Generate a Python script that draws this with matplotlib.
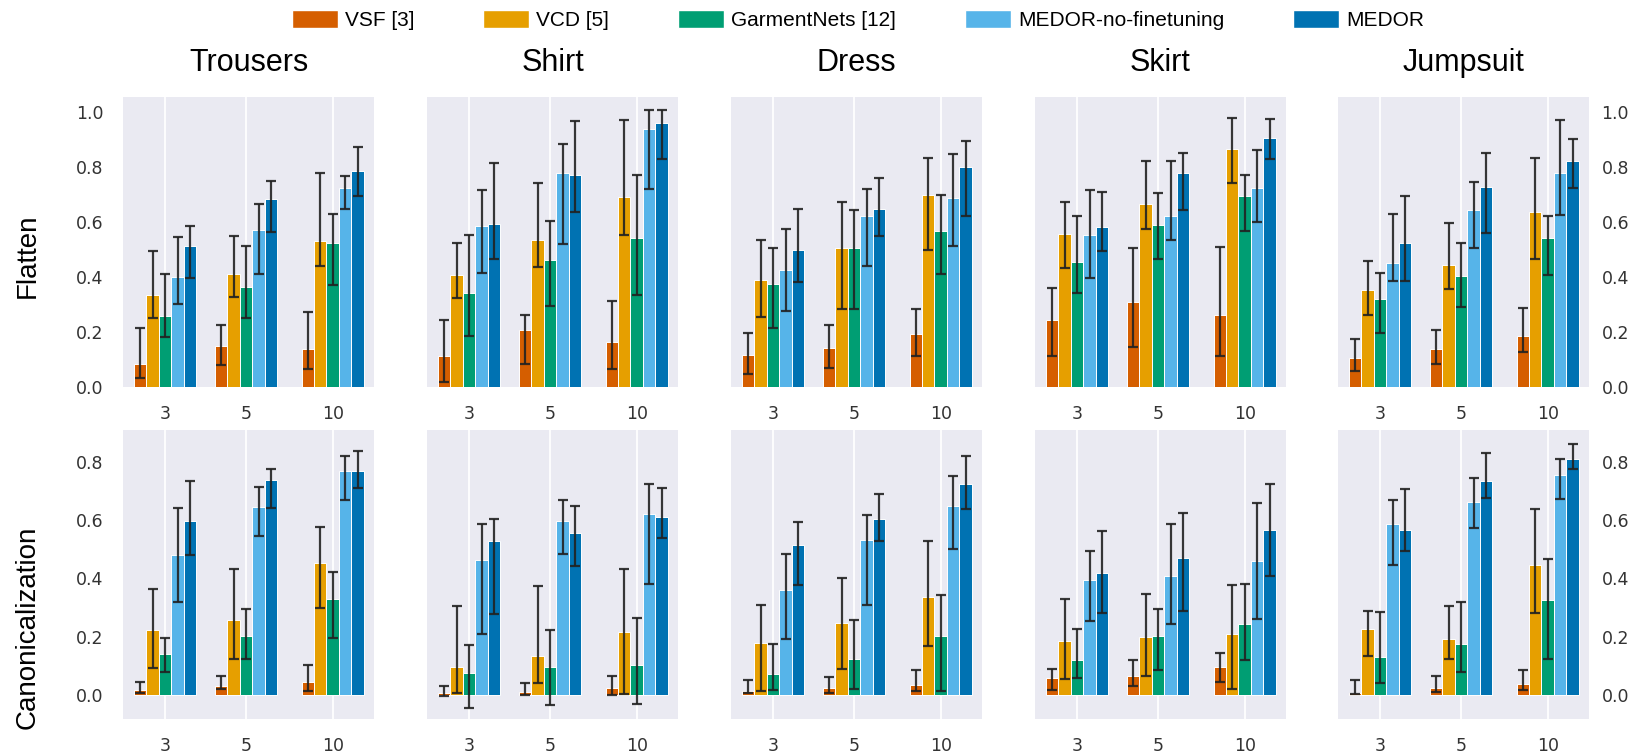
import numpy as np
import matplotlib
matplotlib.use("Agg")
from matplotlib import pyplot as plt
from matplotlib.patches import Patch

# data ------------------------------------------------------------------
garments = ["Trousers", "Shirt", "Dress", "Skirt", "Jumpsuit"]
methods = ["VSF [3]", "VCD [5]", "GarmentNets [12]", "MEDOR-no-finetuning", "MEDOR"]
groups = ["3", "5", "10"]
rows = ["Flatten", "Canonicalization"]

# [garment][method][group]
flatten_mean = [
    [[0.082, 0.148, 0.137], [0.335, 0.409, 0.530], [0.258, 0.364, 0.524], [0.400, 0.570, 0.722], [0.513, 0.685, 0.786]],
    [[0.113, 0.206, 0.162], [0.407, 0.533, 0.690], [0.340, 0.461, 0.540], [0.585, 0.779, 0.938], [0.592, 0.769, 0.960]],
    [[0.117, 0.141, 0.194], [0.390, 0.506, 0.699], [0.375, 0.504, 0.567], [0.427, 0.623, 0.688], [0.497, 0.648, 0.800]],
    [[0.245, 0.309, 0.263], [0.557, 0.665, 0.864], [0.455, 0.587, 0.693], [0.554, 0.623, 0.725], [0.581, 0.778, 0.905]],
    [[0.107, 0.138, 0.185], [0.352, 0.442, 0.637], [0.321, 0.402, 0.542], [0.449, 0.643, 0.778], [0.525, 0.728, 0.822]],
]
flatten_low = [
    [[0.033, 0.081, 0.065], [0.250, 0.327, 0.440], [0.180, 0.250, 0.370], [0.300, 0.410, 0.647], [0.395, 0.564, 0.693]],
    [[0.018, 0.082, 0.065], [0.325, 0.435, 0.552], [0.184, 0.295, 0.334], [0.414, 0.518, 0.721], [0.464, 0.635, 0.829]],
    [[0.047, 0.068, 0.114], [0.255, 0.282, 0.497], [0.214, 0.282, 0.411], [0.277, 0.438, 0.513], [0.383, 0.549, 0.623]],
    [[0.114, 0.145, 0.114], [0.432, 0.575, 0.740], [0.343, 0.464, 0.567], [0.396, 0.533, 0.600], [0.494, 0.642, 0.830]],
    [[0.058, 0.082, 0.127], [0.263, 0.356, 0.465], [0.197, 0.292, 0.407], [0.384, 0.506, 0.626], [0.385, 0.559, 0.725]],
]
flatten_high = [
    [[0.215, 0.224, 0.273], [0.496, 0.550, 0.777], [0.410, 0.512, 0.630], [0.545, 0.665, 0.767], [0.585, 0.747, 0.871]],
    [[0.243, 0.263, 0.313], [0.522, 0.742, 0.970], [0.552, 0.602, 0.771], [0.717, 0.883, 1.007], [0.815, 0.968, 1.007]],
    [[0.196, 0.226, 0.282], [0.534, 0.674, 0.831], [0.506, 0.645, 0.697], [0.573, 0.721, 0.847], [0.648, 0.761, 0.895]],
    [[0.361, 0.505, 0.510], [0.672, 0.823, 0.978], [0.623, 0.705, 0.770], [0.717, 0.823, 0.860], [0.708, 0.851, 0.975]],
    [[0.176, 0.208, 0.286], [0.459, 0.597, 0.833], [0.414, 0.524, 0.621], [0.628, 0.746, 0.970], [0.695, 0.851, 0.901]],
]

canon_mean = [
    [[0.016, 0.030, 0.046], [0.223, 0.258, 0.454], [0.141, 0.203, 0.329], [0.480, 0.646, 0.769], [0.598, 0.737, 0.769]],
    [[0.008, 0.010, 0.024], [0.098, 0.134, 0.218], [0.075, 0.098, 0.104], [0.464, 0.598, 0.622], [0.530, 0.555, 0.611]],
    [[0.015, 0.026, 0.036], [0.177, 0.246, 0.336], [0.071, 0.125, 0.203], [0.362, 0.531, 0.650], [0.515, 0.605, 0.723]],
    [[0.057, 0.066, 0.098], [0.186, 0.200, 0.209], [0.119, 0.203, 0.245], [0.394, 0.410, 0.460], [0.419, 0.471, 0.565]],
    [[0.008, 0.026, 0.037], [0.225, 0.193, 0.446], [0.129, 0.176, 0.326], [0.587, 0.663, 0.754], [0.565, 0.735, 0.810]],
]
canon_low = [
    [[0.007, 0.022, 0.015], [0.094, 0.125, 0.300], [0.079, 0.125, 0.195], [0.318, 0.545, 0.668], [0.480, 0.640, 0.709]],
    [[-0.003, 0.002, 0.000], [0.006, 0.043, 0.004], [-0.043, -0.034, -0.031], [0.208, 0.483, 0.380], [0.278, 0.441, 0.539]],
    [[0.006, 0.008, 0.014], [0.014, 0.091, 0.170], [0.017, 0.022, 0.013], [0.192, 0.309, 0.500], [0.379, 0.527, 0.637]],
    [[0.019, 0.032, 0.045], [0.056, 0.064, 0.020], [0.058, 0.085, 0.120], [0.255, 0.243, 0.260], [0.281, 0.289, 0.410]],
    [[0.003, 0.012, 0.017], [0.134, 0.125, 0.283], [0.043, 0.079, 0.123], [0.447, 0.574, 0.674], [0.493, 0.675, 0.776]],
]
canon_high = [
    [[0.046, 0.067, 0.104], [0.365, 0.432, 0.576], [0.197, 0.294, 0.422], [0.640, 0.712, 0.821], [0.734, 0.775, 0.838]],
    [[0.030, 0.042, 0.066], [0.305, 0.373, 0.431], [0.173, 0.224, 0.266], [0.587, 0.669, 0.725], [0.605, 0.649, 0.709]],
    [[0.053, 0.061, 0.085], [0.309, 0.403, 0.528], [0.176, 0.259, 0.342], [0.483, 0.619, 0.752], [0.595, 0.691, 0.819]],
    [[0.091, 0.120, 0.145], [0.328, 0.347, 0.378], [0.226, 0.296, 0.380], [0.493, 0.585, 0.660], [0.563, 0.623, 0.725]],
    [[0.053, 0.065, 0.087], [0.289, 0.304, 0.639], [0.285, 0.318, 0.468], [0.670, 0.746, 0.808], [0.706, 0.830, 0.860]],
]

# style -----------------------------------------------------------------
colors = ["#D55E00", "#E69F00", "#009E73", "#56B4E9", "#0072B2"]
bg = "#EAEAF2"
err_color = "#222222"
tick_color = "#333333"

W, H = 1637, 756
group_x = np.array([0.0, 1.0, 2.07])
bar_w = 0.154
panel_left = [123, 427, 731, 1035, 1338]
panel_w = 251
row_top = [96.7, 430]
row_h = [290.3, 289]
row_ylim = [(0, 1.055), (-0.082, 0.909)]
row_ticks = [np.arange(0, 1.01, 0.2), np.arange(0, 0.81, 0.2)]

fig = plt.figure(figsize=(W / 100, H / 100), dpi=100)

all_data = [(flatten_mean, flatten_low, flatten_high), (canon_mean, canon_low, canon_high)]

for r in range(2):
    mean_r, low_r, high_r = all_data[r]
    for g in range(len(garments)):
        ax = fig.add_axes([panel_left[g] / W, 1 - (row_top[r] + row_h[r]) / H, panel_w / W, row_h[r] / H])
        ax.set_facecolor(bg)
        for s in ax.spines.values():
            s.set_visible(False)
        ax.set_axisbelow(True)
        ax.grid(axis="x", color="white", linewidth=1.3)
        for m in range(len(methods)):
            mean = np.array(mean_r[g][m])
            lo = np.array(low_r[g][m])
            hi = np.array(high_r[g][m])
            x = group_x + (m - 2) * bar_w
            ax.bar(x, mean, width=bar_w, color=colors[m], edgecolor="white", linewidth=0.7, zorder=2)
            ax.errorbar(x, mean, yerr=[mean - lo, hi - mean], fmt="none", ecolor=err_color,
                        elinewidth=1.6, capsize=3.8, capthick=1.6, zorder=3, alpha=0.9)
        ax.set_xlim(-0.52, 2.58)
        ax.set_ylim(*row_ylim[r])
        ax.set_xticks(group_x)
        ax.set_xticklabels(groups)
        ax.set_yticks(row_ticks[r])
        ax.set_yticklabels(["%.1f" % t for t in row_ticks[r]])
        ax.tick_params(axis="x", length=0, pad=13, labelsize=12.5, colors=tick_color)
        if g == 0:
            ax.tick_params(axis="y", length=0, pad=14, labelsize=12.5, colors=tick_color)
        elif g == len(garments) - 1:
            ax.yaxis.tick_right()
            ax.tick_params(axis="y", length=0, pad=9, labelsize=12.5, colors=tick_color)
        else:
            ax.tick_params(axis="y", left=False, labelleft=False)
        if r == 0:
            fig.text((panel_left[g] + panel_w / 2) / W, 1 - 63 / H, garments[g], ha="center", va="center",
                     fontsize=22, family="Liberation Sans")

# row labels
fig.text(28 / W, 1 - 256 / H, rows[0], rotation=90, ha="center", va="center", fontsize=20,
         family="Liberation Sans")
fig.text(28 / W, 1 - 627 / H, rows[1], rotation=90, ha="center", va="center", fontsize=20,
         family="Liberation Sans")

handles = [Patch(facecolor=c, edgecolor="white") for c in colors]
fig.legend(handles, methods, loc="center", bbox_to_anchor=(858 / W, 1 - 20 / H), ncol=5, frameon=False,
           prop={"family": "Liberation Sans", "size": 15}, handlelength=2.2, handleheight=0.95,
           handletextpad=0.35, columnspacing=3.3, borderaxespad=0)

fig.savefig("out.png", dpi=100)
